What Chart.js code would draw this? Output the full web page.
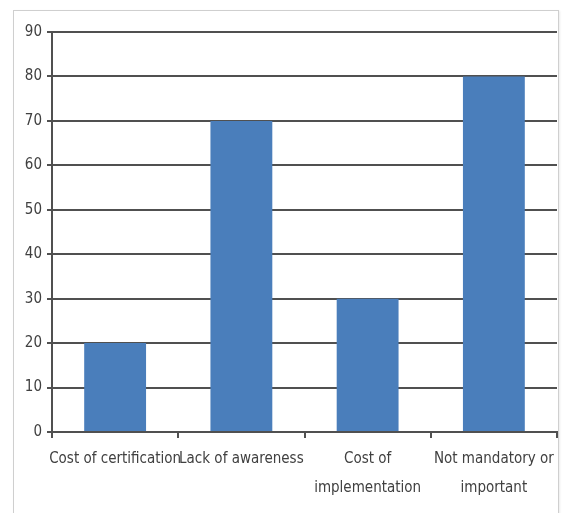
<!DOCTYPE html>
<html>
<head>
<meta charset="utf-8">
<script src="https://cdn.jsdelivr.net/npm/chart.js@4/dist/chart.umd.min.js"></script>
<style>
  html, body { margin: 0; padding: 0; background: #fff; }
  #wrap { position: relative; width: 563px; height: 513px; overflow: hidden; }
  #frame { position: absolute; left: 13px; top: 10px; width: 544px; height: 520px;
           border: 1px solid #cfcfcf; box-shadow: 1px 1px 2px rgba(0,0,0,0.08); }
  canvas { position: absolute; left: 0; top: 0; }
</style>
</head>
<body>
<div id="wrap">
  <div id="frame"></div>
  <canvas id="c" width="563" height="513"></canvas>
</div>
<script>
// Barriers to certification, percent of respondents
const categories = [
  'Cost of certification',
  'Lack of awareness',
  ['Cost of', 'implementation'],
  ['Not mandatory or', 'important']
];
const values = [20, 70, 30, 80];
const yMin = 0, yMax = 90, yStep = 10;

const textColor = '#404040';
const lineColor = '#505050';
const yFont = { family: "'Liberation Sans Narrow', 'DejaVu Sans Condensed', sans-serif", size: 15 };
const xFont = { family: "'Liberation Sans Narrow', 'DejaVu Sans Condensed', sans-serif", size: 15, lineHeight: 1.93 };

new Chart(document.getElementById('c'), {
  type: 'bar',
  data: {
    labels: categories,
    datasets: [{
      data: values,
      backgroundColor: '#4a7ebb',
      borderWidth: 0,
      barPercentage: 0.49,
      categoryPercentage: 1.0
    }]
  },
  options: {
    responsive: false,
    animation: false,
    layout: { padding: { left: 0, right: 6, top: 32, bottom: 0 } },
    plugins: { legend: { display: false }, tooltip: { enabled: false } },
    scales: {
      x: {
        offset: true,
        grid: { offset: true, drawOnChartArea: false, drawTicks: true, tickLength: 6, color: lineColor, lineWidth: 2 },
        border: { display: true, color: lineColor, width: 2 },
        ticks: { color: textColor, font: xFont, padding: 7, maxRotation: 0, autoSkip: false },
        afterFit: s => { s.height = 81; }
      },
      y: {
        min: yMin, max: yMax,
        grid: { color: lineColor, lineWidth: 2, tickLength: 5, drawTicks: true },
        border: { display: true, color: lineColor, width: 2 },
        ticks: { stepSize: yStep, color: textColor, font: yFont, padding: 5 },
        afterFit: s => { s.width = 52; }
      }
    }
  }
});
</script>
</body>
</html>
